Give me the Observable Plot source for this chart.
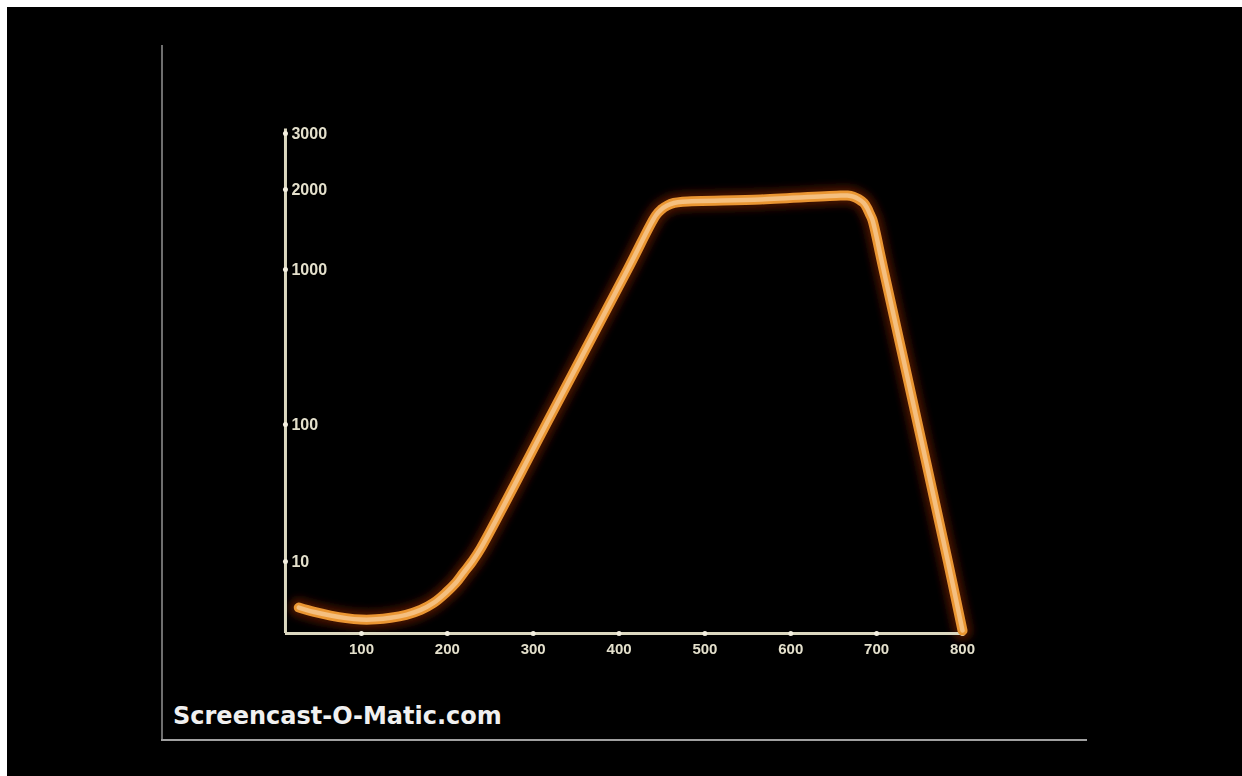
<!DOCTYPE html>
<html><head><meta charset="utf-8">
<script src="https://cdn.jsdelivr.net/npm/d3@7"></script>
<script src="https://cdn.jsdelivr.net/npm/@observablehq/plot@0.6"></script>
<style>
html,body{margin:0;padding:0;background:#fff;width:1242px;height:776px;overflow:hidden;}
#frame{position:absolute;left:7px;top:7px;width:1235px;height:769px;background:#000;overflow:hidden;}
#chart{position:absolute;left:0;top:0;}
.vline{position:absolute;left:154px;top:38px;width:2px;height:695px;background:#6e6e6e;}
.hline{position:absolute;left:154px;top:732px;width:926px;height:2px;background:#a0a0a0;}
#wm{position:absolute;left:166px;top:695px;font-family:"DejaVu Sans",sans-serif;font-weight:bold;font-size:24px;line-height:28px;color:#f0f0f0;}
</style></head><body>
<div id="frame"><div id="chart"></div><div class="vline"></div><div class="hline"></div><div id="wm">Screencast-O-Matic.com</div></div>
<script>
// Tick values and labels
const xTicks = [100, 200, 300, 400, 500, 600, 700, 800];
const yTicks = [10, 100, 1000, 2000, 3000];
const yTickLabels = ["10", "100", "1000", "2000", "3000"];
// Curve (x, value)
const curveX = [27, 45, 64, 82, 99, 117, 134, 152, 169, 184, 198, 210, 219, 229, 239, 315, 410, 443, 449, 456, 464, 474, 565, 658, 666, 673, 679, 685, 689, 692, 695, 708, 748, 783, 800];
const curveY = [4.63, 4.3, 4.05, 3.88, 3.79, 3.8, 3.9, 4.1, 4.45, 5.0, 5.9, 7.0, 8.3, 10.0, 12.5, 100, 1000, 1600, 1680, 1740, 1780, 1800, 1834, 1899, 1899, 1880, 1840, 1780, 1700, 1620, 1540, 1000, 100, 10, 3.15];
// Axis extent
const xAxisStart = 11.5, xAxisEnd = 803;
const yAxisBottom = 3, yAxisTop = 3100;

const curve = curveX.map((x, i) => ({x, y: curveY[i]}));
const xt = xTicks.map(x => ({x, label: String(x)}));
const yt = yTicks.map((y, i) => ({y, label: yTickLabels[i]}));

const cream = "#dcd8c0";
const W = 1235, H = 769;
const chart = Plot.plot({
  width: W, height: H,
  marginLeft: 278, marginRight: 277, marginTop: 120, marginBottom: 143,
  style: {background: "transparent", color: cream, fontFamily: "Liberation Sans, Arial, sans-serif"},
  x: {domain: [0, 800], range: [268.1, 955], axis: null},
  y: {type: "log", domain: [3, 10, 100, 1000, 2000, 3000], range: [626, 554, 417, 262, 182, 126], axis: null},
  marks: [
    Plot.line(curve, {x: "x", y: "y", stroke: "#7a2208", strokeWidth: 20, strokeOpacity: 0.55, curve: "catmull-rom", strokeLinecap: "round", strokeLinejoin: "round"}),
    Plot.ruleY([yAxisBottom], {x1: xAxisStart, x2: xAxisEnd, stroke: cream, strokeWidth: 3}),
    Plot.ruleX([xAxisStart], {y1: yAxisBottom, y2: yAxisTop, stroke: cream, strokeWidth: 3}),
    Plot.dot(xt, {x: "x", y: () => yAxisBottom, r: 2.5, fill: "#f4f0e0", stroke: null}),
    Plot.dot(yt, {x: () => xAxisStart, y: "y", r: 2.5, fill: "#f4f0e0", stroke: null}),
    Plot.text(xt, {x: "x", y: () => yAxisBottom, text: "label", dy: 16, fill: "#e4e0cc", fontSize: 15, fontWeight: "bold"}),
    Plot.text(yt, {x: () => xAxisStart, y: "y", text: "label", dx: 6, textAnchor: "start", fill: "#e4e0cc", fontSize: 16, fontWeight: "bold"}),
    Plot.line(curve, {x: "x", y: "y", stroke: "#ea9632", strokeWidth: 10, curve: "catmull-rom", strokeLinecap: "round", strokeLinejoin: "round"}),
    Plot.line(curve, {x: "x", y: "y", stroke: "#f7c68c", strokeWidth: 4.5, strokeOpacity: 0.85, curve: "catmull-rom", strokeLinecap: "round", strokeLinejoin: "round"})
  ]
});
const ns = "http://www.w3.org/2000/svg";
const defs = document.createElementNS(ns, "defs");
defs.innerHTML = '<filter id="glowblur" x="-20%" y="-20%" width="140%" height="140%"><feGaussianBlur stdDeviation="3.5"/></filter><filter id="soft"><feGaussianBlur stdDeviation="0.6"/></filter>';
chart.insertBefore(defs, chart.firstChild);
const lines = chart.querySelectorAll('g[aria-label="line"]');
if (lines[0]) lines[0].setAttribute("filter", "url(#glowblur)");
if (lines[2]) lines[2].setAttribute("filter", "url(#soft)");
chart.querySelectorAll('g[aria-label="text"]').forEach(t => t.setAttribute("filter", "url(#soft)"));
document.getElementById("chart").appendChild(chart);
</script>
</body></html>
